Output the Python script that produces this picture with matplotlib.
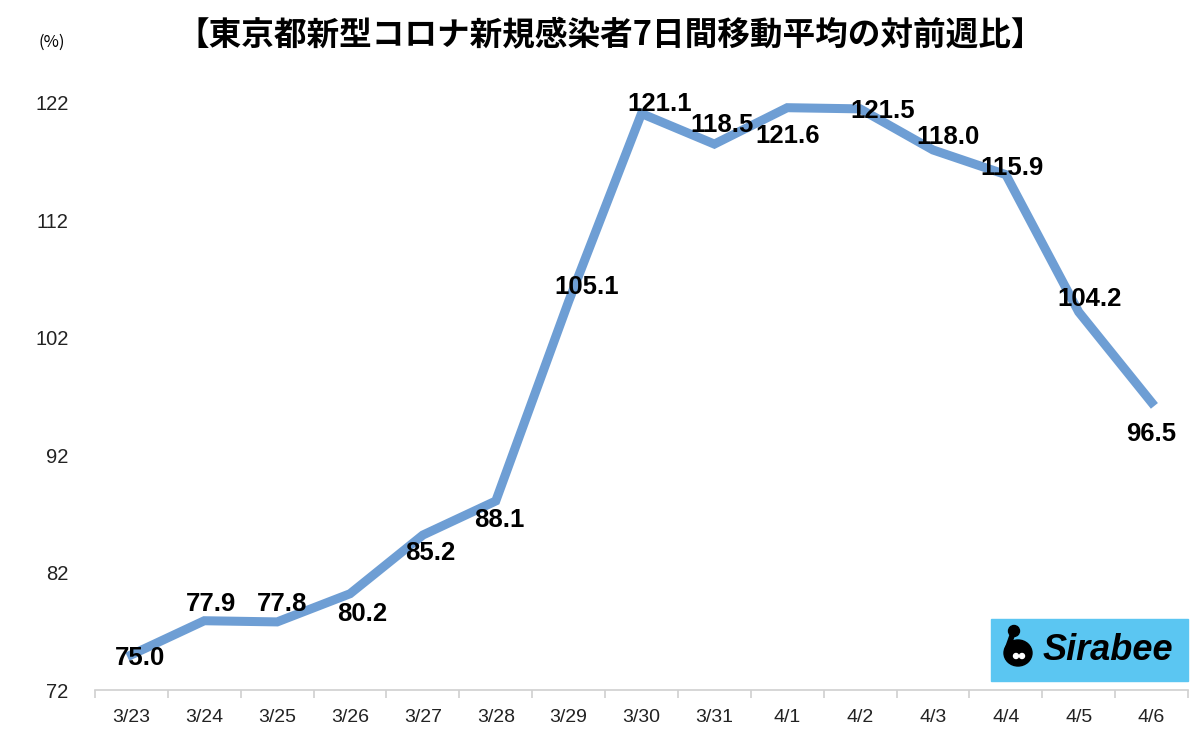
import matplotlib.pyplot as plt
import numpy as np
from matplotlib.patches import Rectangle, Ellipse
from matplotlib.lines import Line2D

plt.rcParams['font.family'] = ['Liberation Sans', 'Noto Sans CJK JP', 'DejaVu Sans']

dates = ['3/23', '3/24', '3/25', '3/26', '3/27', '3/28', '3/29', '3/30',
         '3/31', '4/1', '4/2', '4/3', '4/4', '4/5', '4/6']
ratio = [75.0, 77.9, 77.8, 80.2, 85.2, 88.1, 105.1, 121.1,
         118.5, 121.6, 121.5, 118.0, 115.9, 104.2, 96.5]
yticks = [72, 82, 92, 102, 112, 122]
# label offsets in pixels (dx, dy)
offs = [(9, -3), (7, 17), (5, 18), (12, -20), (7, -18), (4, -19), (18, 14),
        (18, 10), (8, 19), (0, -28), (23, -2), (15, 13), (6, 7), (11, 13), (0, -32)]

fig = plt.figure(figsize=(12, 7.3), dpi=100)
ax = fig.add_axes([95/1200, 40/730, 1093/1200, 587/730])

x = np.arange(len(dates))
ax.plot(x, ratio, color='#6E9ED4', lw=6.5, solid_joinstyle='miter', clip_on=False, zorder=2)

for xi, v, (dx, dy) in zip(x, ratio, offs):
    ax.annotate(f'{v:.1f}', (xi, v), xytext=(dx * 0.72, dy * 0.72), textcoords='offset points',
                ha='center', va='center', fontsize=18.5, fontweight='bold', color='black', zorder=3)

ax.set_xlim(-0.5, len(dates) - 0.5)
ax.set_ylim(72, 122)
ax.set_yticks(yticks)
ax.set_xticks(x)
ax.set_xticklabels(dates)
ax.set_xticks(np.arange(-0.5, len(dates)), minor=True)
ax.tick_params(axis='x', which='major', length=0, labelsize=14, pad=14, colors='#222222')
ax.tick_params(axis='x', which='minor', length=6, color='#d0d0d0', width=1.2)
ax.tick_params(axis='y', length=0, labelsize=14.5, pad=19, colors='#222222')
for s in ['top', 'right', 'left']:
    ax.spines[s].set_visible(False)
ax.spines['bottom'].set_color('#d0d0d0')
ax.spines['bottom'].set_linewidth(1.2)

fig.text(610/1200, 1 - 36/730, '【東京都新型コロナ新規感染者7日間移動平均の対前週比】',
         ha='center', va='center', fontsize=23.5, fontweight='bold',
         family=['Noto Sans CJK JP', 'DejaVu Sans'])
fig.text(52/1200, 1 - 42/730, '(%)', ha='center', va='center', fontsize=12,
         family=['Noto Sans CJK JP', 'DejaVu Sans'])

# Sirabee logo
tf = fig.transFigure
def px(xp, yp):
    return (xp / 1200, 1 - yp / 730)

fig.patches.append(Rectangle(px(991, 681), 197/1200, 62/730,
                             transform=tf, color='#5BC6F2', zorder=5))
fig.patches.append(Ellipse(px(1018, 653), 28/1200, 26/730, transform=tf,
                           color='black', zorder=6))
xs0, ys0 = px(1013, 633)
xs1, ys1 = px(1008, 647)
fig.lines.append(Line2D([xs0, xs1], [ys0, ys1], transform=tf, color='black', lw=4, zorder=6))
fig.patches.append(Ellipse(px(1014, 631), 11/1200, 11/730, transform=tf,
                           color='black', zorder=6))
for ex in (1016, 1022):
    fig.patches.append(Ellipse(px(ex, 656), 5/1200, 5/730, transform=tf,
                               color='white', zorder=7))
fig.text(1043/1200, 1 - 651/730, 'Sirabee', ha='left', va='center', fontsize=26,
         fontweight='bold', style='italic', color='black', zorder=7)

fig.savefig('out.png', dpi=100)
